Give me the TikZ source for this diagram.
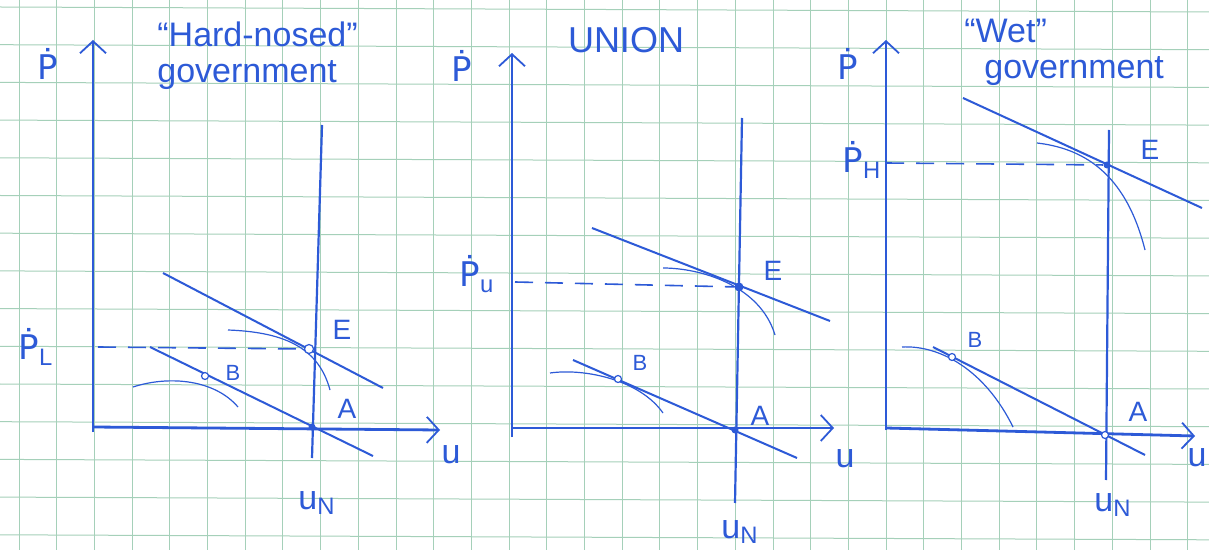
\documentclass[tikz,border=0pt]{standalone}
\usepackage{fontspec}
\setmainfont{Liberation Sans}
\newfontfamily\dvs{DejaVu Sans}
\usetikzlibrary{arrows.meta}
\definecolor{pen}{RGB}{45,90,215}
\definecolor{paper}{RGB}{165,208,185}
\newcommand{\pdot}{{\dvs Ṗ}}

\begin{document}
\begin{tikzpicture}[x=0.5pt,y=-0.5pt,
      font=\fontsize{14}{16}\selectfont,
      grid/.style={draw=paper,line width=0.5pt},
      axis/.style={draw=pen,line width=1.4pt,
                   -{Straight Barb[length=6pt,width=13pt,line width=0.9pt]}},
      pc/.style={draw=pen,line width=1pt},
      lrpc/.style={draw=pen,line width=1.1pt},
      ic/.style={draw=pen,line width=0.6pt},
      guide/.style={draw=pen,line width=0.8pt,dash pattern=on 9pt off 6pt},
      lbl/.style={text=pen,inner sep=1pt},
      big/.style={lbl,font=\fontsize{17}{18}\selectfont},
      small/.style={lbl,font=\fontsize{11}{12}\selectfont},
      title/.style={lbl,font=\fontsize{17}{18}\selectfont,align=left},
      dotopen/.style={circle,draw=pen,line width=0.6pt,fill=white,
                      inner sep=0pt,minimum size=4.5pt},
      dotfull/.style={circle,fill=pen,inner sep=0pt,minimum size=4.5pt}]
    \useasboundingbox (0,0) rectangle (1209,550);
    \fill[white] (0,0) rectangle (1209,550);
    \foreach \k in {0,...,31} \draw[grid] ({19+37.7*\k},0) -- ({19+37.7*\k},550);
    \foreach \k in {0,...,14} \draw[grid] (0,{7+37.7*\k}) -- (1209,{12+37.7*\k});

    % hard-nosed government
    \node[title,anchor=north west] (t1) at (155,19) {``Hard-nosed''\\government};
    \draw[axis] (93,432) -- (93,40);
    \draw[axis] (93,427) -- (440,430);
    \draw[lrpc] (322,125) -- (312,458);
    \draw[pc] (163,273) -- (383,388);
    \draw[pc] (150,347) -- (373,456);
    \draw[ic] (228,330) .. controls (280,332) and (318,345) .. (330,390);
    \draw[ic] (133,387) .. controls (170,375) and (215,380) .. (238,407);
    \node[dotopen] (E1) at (309,349) {};
    \node[dotfull,minimum size=3.5pt] (A1) at (312,427) {};
    \node[dotopen,minimum size=3.5pt] (B1) at (205,376) {};
    \draw[guide] (98,347) -- (E1);
    \node[big] (p1) at (48,64) {\pdot};
    \node[big] (pl) at (36,347) {\pdot\textsubscript{L}};
    \node[lbl] (e1) at (342,330) {E};
    \node[lbl] (a1) at (347,409) {A};
    \node[small] (b1) at (233,373) {B};
    \node[big] (un1) at (317,503) {u\textsubscript{N}};
    \node[big] (u1) at (451,455) {u};

    % union
    \node[lbl,font=\fontsize{18}{18}\selectfont] (t2) at (626,40) {UNION};
    \draw[axis] (512,437) -- (512,53);
    \draw[axis] (512,428) -- (834,428);
    \draw[lrpc] (742,118) -- (735,503);
    \draw[pc] (592,228) -- (830,321);
    \draw[pc] (573,360) -- (797,458);
    \draw[ic] (663,268) .. controls (700,268) and (760,285) .. (775,335);
    \draw[ic] (550,373) .. controls (585,368) and (640,380) .. (663,413);
    \node[dotfull] (E2) at (739,287) {};
    \node[dotfull,minimum size=3.5pt] (A2) at (735,430) {};
    \node[dotopen,minimum size=3.5pt] (B2) at (618,379) {};
    \draw[guide] (515,282) -- (E2);
    \node[big] (p2) at (462,66) {\pdot};
    \node[big] (pu) at (477,274) {\pdot\textsubscript{u}};
    \node[lbl] (e2) at (773,271) {E};
    \node[lbl] (a2) at (760,416) {A};
    \node[small] (b2) at (640,363) {B};
    \node[big] (un2) at (740,532) {u\textsubscript{N}};
    \node[big] (u2) at (845,459) {u};

    % wet government
    \node[title,anchor=north west] (t3) at (962,17) {``Wet''\\\hspace*{10pt}government};
    \draw[axis] (886,430) -- (886,40);
    \draw[axis] (886,428) -- (1195,436);
    \draw[lrpc] (1109,130) -- (1106,480);
    \draw[pc] (963,98) -- (1202,208);
    \draw[pc] (933,347) -- (1145,455);
    \draw[ic] (1037,143) .. controls (1080,148) and (1125,170) .. (1145,250);
    \draw[ic] (902,347) .. controls (940,345) and (985,370) .. (1013,427);
    \node[dotfull,minimum size=3.5pt] (E3) at (1107,165) {};
    \node[dotopen,minimum size=3.5pt] (A3) at (1105,435) {};
    \node[dotopen,minimum size=3.5pt] (B3) at (952,357) {};
    \draw[guide] (886,163) -- (E3);
    \node[big] (p3) at (848,64) {\pdot};
    \node[big] (ph) at (862,160) {\pdot\textsubscript{H}};
    \node[lbl] (e3) at (1150,150) {E};
    \node[lbl] (a3) at (1138,412) {A};
    \node[small] (b3) at (975,340) {B};
    \node[big] (un3) at (1113,505) {u\textsubscript{N}};
    \node[big] (u3) at (1197,458) {u};
  \end{tikzpicture}
\end{document}
